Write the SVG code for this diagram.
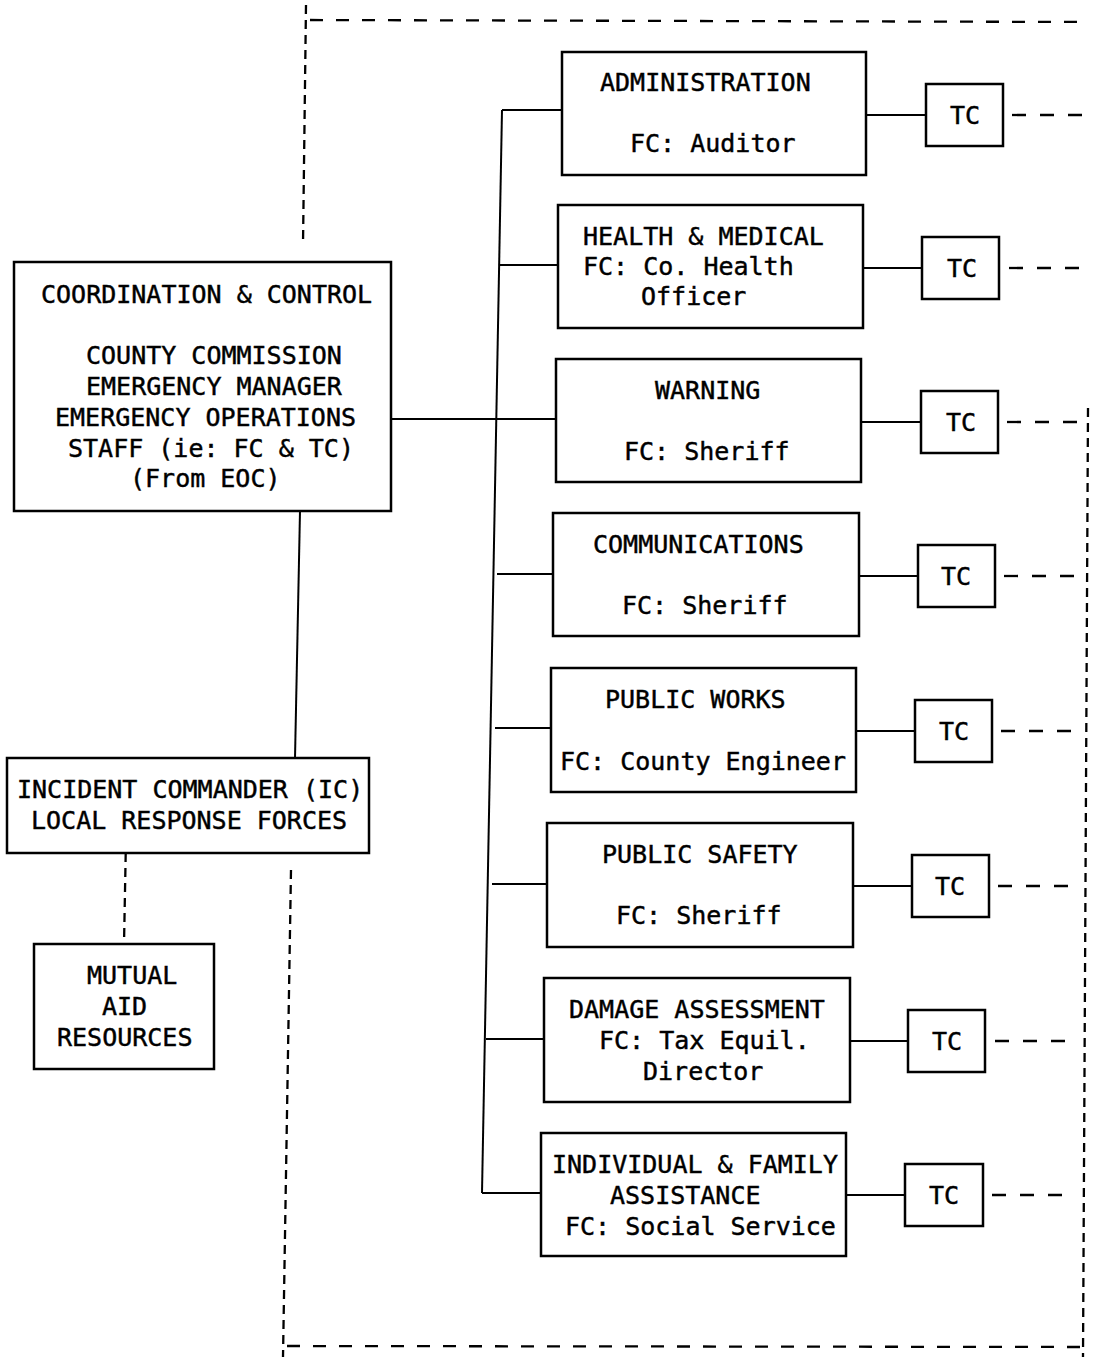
<svg xmlns="http://www.w3.org/2000/svg" width="1104" height="1357" viewBox="0 0 1104 1357">
<style>
.bx{fill:#fff;stroke:#000;stroke-width:2.5}
.t{font-family:"DejaVu Sans Mono","Liberation Mono",monospace;font-size:25px;fill:#000;stroke:#000;stroke-width:0.45}
.ln{stroke:#000;stroke-width:2;fill:none}
.dh{stroke:#000;stroke-width:2.3;fill:none;stroke-dasharray:13 13}
.dt{stroke:#000;stroke-width:2.3;fill:none;stroke-dasharray:14 14}
.dv{stroke:#000;stroke-width:2.3;fill:none;stroke-dasharray:9 6}
</style>
<rect width="1104" height="1357" fill="#fff"/>
<g id="boundary">
<line class="dv" x1="306" y1="5" x2="303" y2="245"/>
<line class="dh" x1="310" y1="20" x2="1090" y2="22"/>
<line class="dv" x1="1088" y1="408" x2="1083" y2="1357"/>
<line class="dh" x1="287" y1="1346" x2="1082" y2="1347"/>
<line class="dv" x1="291" y1="870" x2="283" y2="1357"/>
</g>
<g id="connectors">
<line class="ln" x1="502" y1="110" x2="482" y2="1193"/>
<line class="ln" x1="502" y1="110" x2="562" y2="110"/>
<line class="ln" x1="500" y1="265" x2="558" y2="265"/>
<line class="ln" x1="391" y1="419" x2="556" y2="419"/>
<line class="ln" x1="497" y1="574" x2="553" y2="574"/>
<line class="ln" x1="495" y1="728" x2="551" y2="728"/>
<line class="ln" x1="492" y1="884" x2="547" y2="884"/>
<line class="ln" x1="486" y1="1039" x2="544" y2="1039"/>
<line class="ln" x1="482" y1="1193" x2="541" y2="1193"/>
<line class="ln" x1="300" y1="511" x2="295" y2="758"/>
<line class="dv" x1="126" y1="838" x2="124" y2="944"/>
<line class="ln" x1="866" y1="115" x2="926" y2="115"/>
<line class="ln" x1="863" y1="268" x2="922" y2="268"/>
<line class="ln" x1="861" y1="422" x2="921" y2="422"/>
<line class="ln" x1="859" y1="576" x2="918" y2="576"/>
<line class="ln" x1="856" y1="731" x2="915" y2="731"/>
<line class="ln" x1="853" y1="886" x2="912" y2="886"/>
<line class="ln" x1="850" y1="1041" x2="908" y2="1041"/>
<line class="ln" x1="846" y1="1195" x2="905" y2="1195"/>
<line class="dt" x1="1012" y1="115" x2="1090" y2="115"/>
<line class="dt" x1="1009" y1="268" x2="1087" y2="268"/>
<line class="dt" x1="1007" y1="422" x2="1085" y2="422"/>
<line class="dt" x1="1004" y1="576" x2="1082" y2="576"/>
<line class="dt" x1="1001" y1="731" x2="1079" y2="731"/>
<line class="dt" x1="998" y1="886" x2="1076" y2="886"/>
<line class="dt" x1="995" y1="1041" x2="1073" y2="1041"/>
<line class="dt" x1="992" y1="1195" x2="1070" y2="1195"/>
</g>
<g id="coordination">
<rect class="bx" x="14" y="262" width="377" height="249"/>
<text class="t" x="41" y="303">COORDINATION &amp; CONTROL</text>
<text class="t" x="86" y="364">COUNTY COMMISSION</text>
<text class="t" x="86" y="395">EMERGENCY MANAGER</text>
<text class="t" x="55" y="426">EMERGENCY OPERATIONS</text>
<text class="t" x="68" y="457">STAFF (ie: FC &amp; TC)</text>
<text class="t" x="130" y="487">(From EOC)</text>
</g>
<g id="incident">
<rect class="bx" x="7" y="758" width="362" height="95"/>
<text class="t" x="17" y="798">INCIDENT COMMANDER (IC)</text>
<text class="t" x="31" y="829">LOCAL RESPONSE FORCES</text>
</g>
<g id="mutual">
<rect class="bx" x="34" y="944" width="180" height="125"/>
<text class="t" x="87" y="984">MUTUAL</text>
<text class="t" x="102" y="1015">AID</text>
<text class="t" x="57" y="1046">RESOURCES</text>
</g>
<g id="administration">
<rect class="bx" x="562" y="52" width="304" height="123"/>
<text class="t" x="600" y="91">ADMINISTRATION</text>
<text class="t" x="630" y="152">FC: Auditor</text>
</g>
<g id="health">
<rect class="bx" x="558" y="205" width="305" height="123"/>
<text class="t" x="583" y="245">HEALTH &amp; MEDICAL</text>
<text class="t" x="583" y="275">FC: Co. Health</text>
<text class="t" x="641" y="305">Officer</text>
</g>
<g id="warning">
<rect class="bx" x="556" y="359" width="305" height="123"/>
<text class="t" x="655" y="399">WARNING</text>
<text class="t" x="624" y="460">FC: Sheriff</text>
</g>
<g id="communications">
<rect class="bx" x="553" y="513" width="306" height="123"/>
<text class="t" x="593" y="553">COMMUNICATIONS</text>
<text class="t" x="622" y="614">FC: Sheriff</text>
</g>
<g id="publicworks">
<rect class="bx" x="551" y="668" width="305" height="124"/>
<text class="t" x="605" y="708">PUBLIC WORKS</text>
<text class="t" x="560" y="770">FC: County Engineer</text>
</g>
<g id="publicsafety">
<rect class="bx" x="547" y="823" width="306" height="124"/>
<text class="t" x="602" y="863">PUBLIC SAFETY</text>
<text class="t" x="616" y="924">FC: Sheriff</text>
</g>
<g id="damage">
<rect class="bx" x="544" y="978" width="306" height="124"/>
<text class="t" x="569" y="1018">DAMAGE ASSESSMENT</text>
<text class="t" x="599" y="1049">FC: Tax Equil.</text>
<text class="t" x="643" y="1080">Director</text>
</g>
<g id="individual">
<rect class="bx" x="541" y="1133" width="305" height="123"/>
<text class="t" x="552" y="1173">INDIVIDUAL &amp; FAMILY</text>
<text class="t" x="610" y="1204">ASSISTANCE</text>
<text class="t" x="565" y="1235">FC: Social Service</text>
</g>
<g id="tc1"><rect class="bx" x="926" y="84" width="77" height="62"/><text class="t" x="950" y="124">TC</text></g>
<g id="tc2"><rect class="bx" x="922" y="237" width="77" height="62"/><text class="t" x="947" y="277">TC</text></g>
<g id="tc3"><rect class="bx" x="921" y="391" width="77" height="62"/><text class="t" x="946" y="431">TC</text></g>
<g id="tc4"><rect class="bx" x="918" y="545" width="77" height="62"/><text class="t" x="941" y="585">TC</text></g>
<g id="tc5"><rect class="bx" x="915" y="700" width="77" height="62"/><text class="t" x="939" y="740">TC</text></g>
<g id="tc6"><rect class="bx" x="912" y="855" width="77" height="62"/><text class="t" x="935" y="895">TC</text></g>
<g id="tc7"><rect class="bx" x="908" y="1010" width="77" height="62"/><text class="t" x="932" y="1050">TC</text></g>
<g id="tc8"><rect class="bx" x="905" y="1164" width="78" height="62"/><text class="t" x="929" y="1204">TC</text></g>
</svg>
